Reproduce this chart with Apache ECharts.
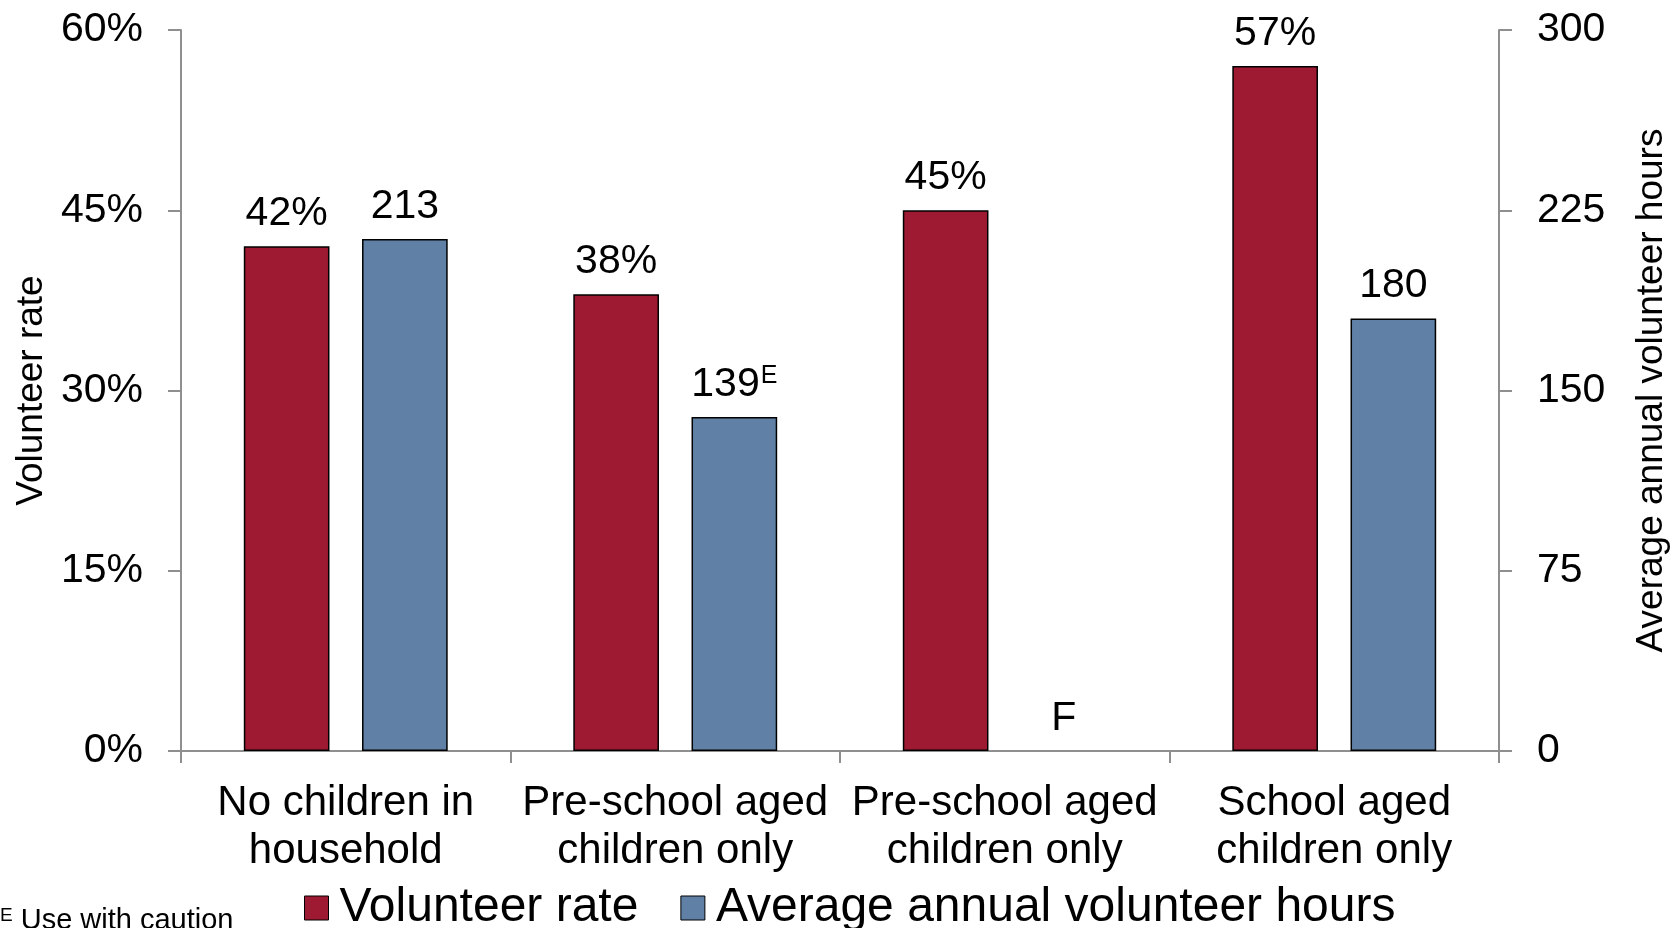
<!DOCTYPE html>
<html>
<head>
<meta charset="utf-8">
<title>Volunteer rate and hours by presence of children</title>
<script src="https://cdn.jsdelivr.net/npm/echarts@6/dist/echarts.min.js"></script>
<style>
  html, body { margin: 0; padding: 0; background: #fff; overflow: hidden; }
  #chart { width: 1671px; height: 928px; }
</style>
</head>
<body>
<div id="chart"></div>
<script>
// Household type categories
const categories = [
  'No children in\nhousehold',
  'Pre-school aged\nchildren only',
  'Pre-school aged\nchildren only',
  'School aged\nchildren only'
];
// Volunteer rate (%)
const volunteerRate = [42, 38, 45, 57];
// Average annual volunteer hours (null = too unreliable to be published, shown as "F")
const volunteerHours = [213, 139, null, 180];
// Quality flags for hours: 'E' = use with caution, 'F' = suppressed
const hoursFlags = ['', 'E', 'F', ''];

const leftTicks = { min: 0, max: 60, interval: 15 };
const rightTicks = { min: 0, max: 300, interval: 75 };

const FONT = '"Liberation Sans", Arial, sans-serif';
const AXIS_GREY = '#8f8f8f';

const chart = echarts.init(document.getElementById('chart'));

// Suppressed values get an invisible zero-height bar that only carries the "F" flag
const hoursData = volunteerHours.map((v, i) => {
  if (v === null) {
    return { value: 0, flag: hoursFlags[i], itemStyle: { borderWidth: 0, color: 'rgba(0,0,0,0)' } };
  }
  return { value: v, flag: hoursFlags[i] };
});

chart.setOption({
  animation: false,
  textStyle: { fontFamily: FONT, color: '#000' },
  grid: { left: 181, right: 172, top: 30, bottom: 177, containLabel: false, outerBoundsMode: 'none' },
  legend: {
    top: 879,
    left: 299,
    itemWidth: 24,
    itemHeight: 24,
    itemGap: 42,
    icon: 'rect',
    itemStyle: { borderColor: '#000', borderWidth: 1 },
    textStyle: { fontSize: 48, color: '#000', fontFamily: FONT, padding: [0, 0, 0, 6] },
    data: ['Volunteer rate', 'Average annual volunteer hours']
  },
  xAxis: {
    type: 'category',
    data: categories,
    axisLine: { lineStyle: { color: AXIS_GREY, width: 2 } },
    axisTick: { show: true, length: 12, lineStyle: { color: AXIS_GREY, width: 2 } },
    axisLabel: { fontSize: 42, color: '#000', lineHeight: 48, margin: 28, interval: 0, fontFamily: FONT }
  },
  yAxis: [
    {
      type: 'value',
      min: leftTicks.min, max: leftTicks.max, interval: leftTicks.interval,
      name: 'Volunteer rate',
      nameLocation: 'middle',
      nameGap: 130,
      nameTextStyle: { fontSize: 37, color: '#000', fontFamily: FONT },
      axisLine: { show: true, lineStyle: { color: AXIS_GREY, width: 2 } },
      axisTick: { show: true, length: 13, lineStyle: { color: AXIS_GREY, width: 2 } },
      axisLabel: { fontSize: 41, color: '#000', margin: 38, formatter: '{value}%', fontFamily: FONT },
      splitLine: { show: false }
    },
    {
      type: 'value',
      min: rightTicks.min, max: rightTicks.max, interval: rightTicks.interval,
      name: 'Average annual volunteer hours',
      nameLocation: 'middle',
      nameGap: 134,
      nameRotate: 90,
      nameTextStyle: { fontSize: 37, color: '#000', fontFamily: FONT },
      axisLine: { show: true, lineStyle: { color: AXIS_GREY, width: 2 } },
      axisTick: { show: true, length: 13, lineStyle: { color: AXIS_GREY, width: 2 } },
      axisLabel: { fontSize: 41, color: '#000', margin: 38, fontFamily: FONT },
      splitLine: { show: false }
    }
  ],
  series: [
    {
      name: 'Volunteer rate',
      type: 'bar',
      yAxisIndex: 0,
      data: volunteerRate,
      barWidth: '26%',
      barGap: '38%',
      itemStyle: { color: '#9D1A32', borderColor: '#000', borderWidth: 1.5 },
      label: {
        show: true, position: 'top', distance: 12,
        fontSize: 41, color: '#000', fontFamily: FONT,
        formatter: p => p.value + '%'
      }
    },
    {
      name: 'Average annual volunteer hours',
      type: 'bar',
      yAxisIndex: 1,
      data: hoursData,
      barWidth: '26%',
      itemStyle: { color: '#6080A6', borderColor: '#000', borderWidth: 1.5 },
      label: {
        show: true, position: 'top', distance: 12,
        fontSize: 41, color: '#000', fontFamily: FONT,
        formatter: p => {
          const flag = p.data.flag;
          if (flag === 'F') return 'F';
          if (flag === 'E') return p.value + '{sup|E}';
          return String(p.value);
        },
        rich: {
          sup: { fontSize: 25, verticalAlign: 'top', color: '#000', fontFamily: FONT, padding: [0, 0, 14, 1] }
        }
      }
    }
  ],
  graphic: [
    {
      type: 'text',
      left: 0,
      top: 906,
      style: {
        text: '{sup|E}{txt| Use with caution}',
        rich: {
          sup: { fontSize: 19, fill: '#000', fontFamily: FONT, verticalAlign: 'top', padding: [0, 0, 10, 0] },
          txt: { fontSize: 29, fill: '#000', fontFamily: FONT }
        }
      }
    }
  ]
});
</script>
</body>
</html>
